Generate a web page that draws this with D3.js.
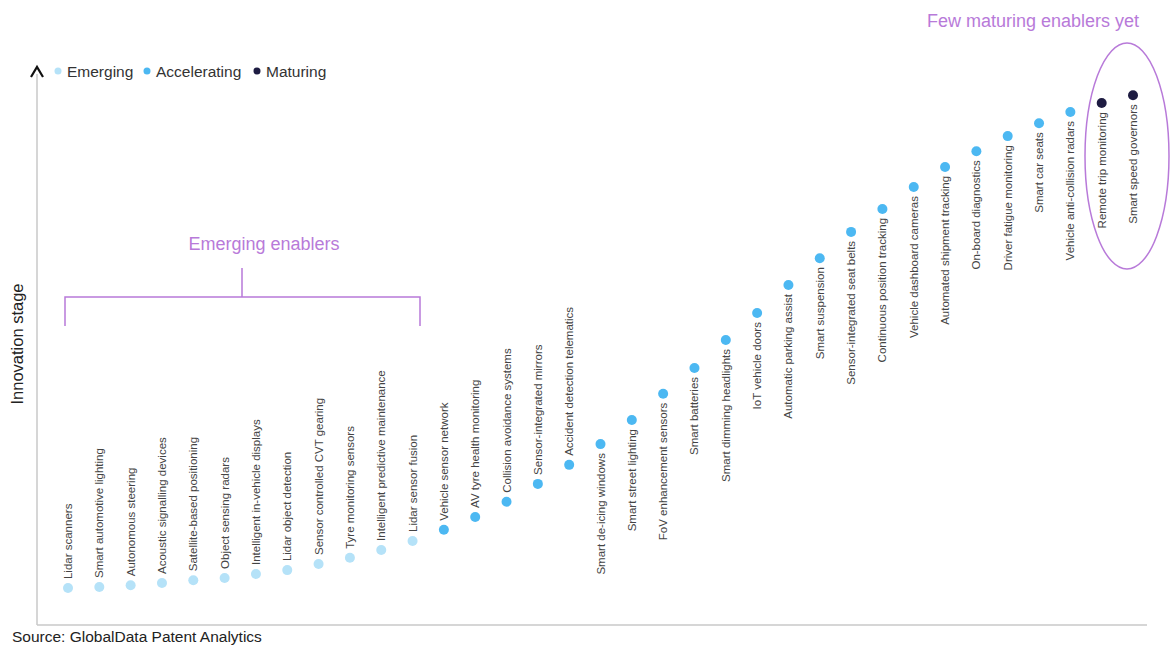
<!DOCTYPE html>
<html>
<head>
<meta charset="utf-8">
<script src="https://cdn.jsdelivr.net/npm/d3@7"></script>
<style>
  body { margin: 0; background: #fff; }
  svg text { font-family: "Liberation Sans", Arial, sans-serif; }
</style>
</head>
<body>
<script>
var w = 1170;
var h = 646;

// enablers, left to right
var enablers = ["Lidar scanners", "Smart automotive lighting", "Autonomous steering",
  "Acoustic signalling devices", "Satellite-based positioning", "Object sensing radars",
  "Intelligent in-vehicle displays", "Lidar object detection", "Sensor controlled CVT gearing",
  "Tyre monitoring sensors", "Intelligent predictive maintenance", "Lidar sensor fusion",
  "Vehicle sensor network", "AV tyre health monitoring", "Collision avoidance systems",
  "Sensor-integrated mirrors", "Accident detection telematics", "Smart de-icing windows",
  "Smart street lighting", "FoV enhancement sensors", "Smart batteries",
  "Smart dimming headlights", "IoT vehicle doors", "Automatic parking assist",
  "Smart suspension", "Sensor-integrated seat belts", "Continuous position tracking",
  "Vehicle dashboard cameras", "Automated shipment tracking", "On-board diagnostics",
  "Driver fatigue monitoring", "Smart car seats", "Vehicle anti-collision radars",
  "Remote trip monitoring", "Smart speed governors"];

// innovation stage (0-100)
var stage = [6.6, 6.8, 7.1, 7.5, 8.0, 8.4, 9.1, 9.8, 10.9, 12.0,
  13.4, 15.0, 17.0, 19.3, 22.0, 25.2, 28.6, 32.3, 36.6, 41.3,
  45.9, 50.9, 55.7, 60.7, 65.5, 70.2, 74.3, 78.2, 81.8, 84.6,
  87.3, 89.6, 91.6, 93.2, 94.6];

// E = emerging, A = accelerating, M = maturing
var phase = ["E","E","E","E","E","E","E","E","E","E","E","E",
  "A","A","A","A","A","A","A","A","A","A","A","A","A","A","A","A","A","A","A","A","A",
  "M","M"];

// labels above the dot for the first ones, below after
var labelBelow = 17;

var legendNames = ["Emerging", "Accelerating", "Maturing"];
var legendKeys = ["E", "A", "M"];

var colour = d3.scaleOrdinal()
  .domain(legendKeys)
  .range(["#b5e2f8", "#4cb8f2", "#1e1c42"]);

var x = d3.scalePoint().domain(enablers).range([68, 1133]);
var y = d3.scaleLinear().domain([0, 100]).range([625, 65]);

var svg = d3.select("body").append("svg")
  .attr("width", w)
  .attr("height", h);

// axes
svg.append("line")
  .attr("x1", 37).attr("y1", 74).attr("x2", 37).attr("y2", 625)
  .attr("stroke", "#c8c8c8").attr("stroke-width", 1.5);
svg.append("line")
  .attr("x1", 37).attr("y1", 625).attr("x2", 1147).attr("y2", 625)
  .attr("stroke", "#c8c8c8").attr("stroke-width", 1.5);
svg.append("path")
  .attr("d", "M31,77 L37,67 L43,77")
  .attr("fill", "none")
  .attr("stroke", "#111")
  .attr("stroke-width", 2.2);

svg.append("text")
  .attr("transform", "translate(23,344) rotate(-90)")
  .attr("text-anchor", "middle")
  .attr("font-size", "16.5px")
  .attr("fill", "#222")
  .text("Innovation stage");

// legend
var legendX = [58, 147, 257];
var lg = svg.selectAll("g.legend").data(legendKeys)
  .enter().append("g")
  .attr("class", "legend")
  .attr("transform", function(d, i) { return "translate(" + legendX[i] + ",71)"; });
lg.append("circle")
  .attr("r", 3.5)
  .attr("fill", function(d) { return colour(d); });
lg.append("text")
  .attr("x", 9)
  .attr("y", 5.5)
  .attr("font-size", "15.5px")
  .attr("fill", "#333")
  .text(function(d, i) { return legendNames[i]; });

// dots
svg.selectAll("circle.dot").data(enablers)
  .enter().append("circle")
  .attr("class", "dot")
  .attr("cx", function(d) { return x(d); })
  .attr("cy", function(d, i) { return y(stage[i]); })
  .attr("r", 5)
  .attr("fill", function(d, i) { return colour(phase[i]); });

// labels
svg.selectAll("text.lbl").data(enablers)
  .enter().append("text")
  .attr("class", "lbl")
  .attr("transform", function(d, i) {
    var ty = i < labelBelow ? y(stage[i]) - 9 : y(stage[i]) + 9;
    return "translate(" + (x(d) + 4) + "," + ty + ") rotate(-90)";
  })
  .attr("text-anchor", function(d, i) { return i < labelBelow ? "start" : "end"; })
  .attr("font-size", "11.5px")
  .attr("fill", "#444")
  .text(function(d) { return d; });

// annotations
var purple = "#b87ad9";
svg.append("text")
  .attr("x", 264).attr("y", 250)
  .attr("text-anchor", "middle")
  .attr("font-size", "18px")
  .attr("fill", purple)
  .text("Emerging enablers");
svg.append("path")
  .attr("d", "M65,326 L65,297 L420,297 L420,326 M242,297 L242,268")
  .attr("fill", "none")
  .attr("stroke", purple)
  .attr("stroke-width", 1.5);

svg.append("text")
  .attr("x", 1033).attr("y", 27)
  .attr("text-anchor", "middle")
  .attr("font-size", "18px")
  .attr("fill", purple)
  .text("Few maturing enablers yet");
svg.append("ellipse")
  .attr("cx", 1127).attr("cy", 156)
  .attr("rx", 42).attr("ry", 113)
  .attr("fill", "none")
  .attr("stroke", purple)
  .attr("stroke-width", 1.5);

svg.append("text")
  .attr("x", 12).attr("y", 642)
  .attr("font-size", "15.5px")
  .attr("fill", "#222")
  .text("Source: GlobalData Patent Analytics");
</script>
</body>
</html>
